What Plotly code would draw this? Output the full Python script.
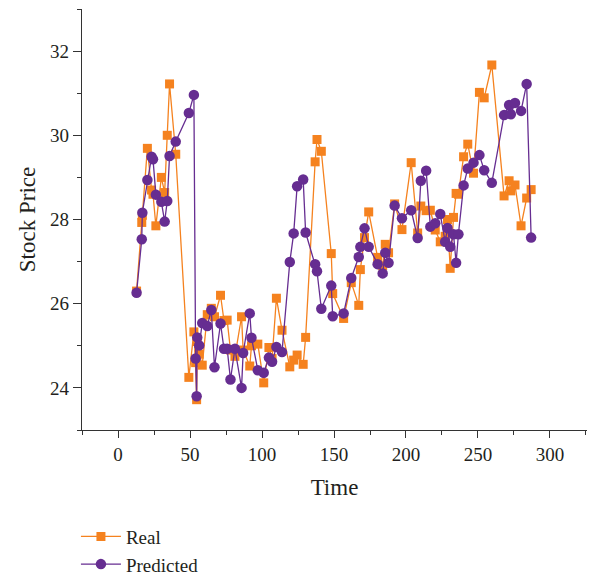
import plotly.graph_objects as go

time = [12.9, 16.5, 16.9, 20.4, 23.3, 24.3, 26.3, 30.1, 32.4, 34.2, 35.8, 40.1,
        49.2, 52.7, 53.9, 54.6, 55.0, 56.4, 58.5, 62.0, 64.8, 67.0, 71.2, 73.6,
        75.8, 78.1, 81.2, 85.8, 86.9, 91.5, 92.7, 97.1, 101.2, 104.8, 107.0, 110.0,
        113.9, 119.3, 122.0, 124.4, 128.6, 130.3, 136.9, 138.2, 141.2, 148.1, 149.1,
        156.7, 162.0, 167.2, 168.3, 171.2, 174.1, 180.3, 183.8, 185.6, 187.9, 192.1,
        197.2, 203.6, 208.1, 210.3, 214.0, 216.9, 220.3, 223.8, 227.2, 228.8, 230.7,
        233.0, 234.8, 236.4, 240.0, 242.9, 246.9, 251.0, 254.3, 259.6, 268.1, 271.6,
        272.8, 275.7, 279.9, 283.8, 286.9]

real = [26.30, 27.93, 28.10, 29.69, 28.70, 28.60, 27.85, 29.00, 28.64, 30.00, 31.22, 29.55,
        24.25, 25.33, 24.60, 23.72, 25.10, 24.80, 24.54, 25.74, 25.89, 25.69, 26.20, 25.60,
        25.61, 24.90, 24.75, 25.69, 24.90, 24.52, 25.00, 25.04, 24.12, 24.96, 24.70, 26.13,
        25.37, 24.50, 24.66, 24.78, 24.56, 25.20, 29.37, 29.90, 29.62, 27.19, 26.24,
        25.65, 26.50, 25.96, 26.81, 27.57, 28.18, 27.10, 26.90, 27.41, 27.21, 28.37,
        27.76, 29.35, 27.68, 28.32, 28.21, 28.22, 27.75, 27.47, 27.60, 28.00, 26.84,
        28.05, 28.62, 28.60, 29.49, 29.79, 29.10, 31.02, 30.89, 31.67, 28.56, 28.92,
        28.68, 28.82, 27.85, 28.51, 28.71]

predicted = [26.26, 27.53, 28.16, 28.94, 29.49, 29.43, 28.59, 28.42, 27.95, 28.44, 29.51, 29.85,
             30.53, 30.96, 24.70, 23.80, 25.20, 25.01, 25.54, 25.47, 25.85, 24.49, 25.53, 24.93,
             24.93, 24.20, 24.93, 24.00, 24.83, 25.77, 25.19, 24.42, 24.36, 24.72, 24.62, 24.97,
             24.85, 26.99, 27.67, 28.79, 28.95, 27.69, 26.94, 26.77, 25.88, 26.43, 25.70,
             25.77, 26.61, 27.11, 27.35, 27.79, 27.35, 26.94, 26.72, 27.21, 26.97, 28.33,
             28.03, 28.22, 27.56, 28.92, 29.16, 27.83, 27.91, 28.13, 27.47, 27.80, 27.35,
             27.65, 26.97, 27.65, 28.81, 29.21, 29.35, 29.53, 29.17, 28.87, 30.48, 30.72,
             30.50, 30.77, 30.58, 31.22, 27.57]

x_ticks = [0, 50, 100, 150, 200, 250, 300]
y_ticks = [24, 26, 28, 30, 32]

ORANGE = "#F5821F"
PURPLE = "#662D91"
AXIS = "#333333"
FONT = "Liberation Serif"

fig = go.Figure()
fig.add_trace(go.Scatter(
    x=time, y=real, name="Real", mode="lines+markers",
    line=dict(color=ORANGE, width=1.3),
    marker=dict(symbol="square", size=9, color=ORANGE),
))
fig.add_trace(go.Scatter(
    x=time, y=predicted, name="Predicted", mode="lines+markers",
    line=dict(color=PURPLE, width=1.3),
    marker=dict(symbol="circle", size=10.5, color=PURPLE),
))

fig.update_layout(
    width=589, height=575,
    margin=dict(l=82, r=2, t=9, b=145, autoexpand=False),
    paper_bgcolor="white", plot_bgcolor="white",
    font=dict(family=FONT, size=19, color="#231F20"),
    showlegend=True,
    legend=dict(
        x=-0.012, xanchor="left", y=-0.208, yanchor="top",
        orientation="v", font=dict(size=19), itemwidth=40,
        bgcolor="rgba(0,0,0,0)", tracegroupgap=0,
    ),
    xaxis=dict(
        range=[-25, 325.7], tickvals=x_ticks, ticktext=[str(v) for v in x_ticks],
        showgrid=False, zeroline=False, showline=True, linecolor=AXIS, linewidth=1.4,
        ticks="outside", ticklen=7, tickwidth=1.4, tickcolor=AXIS, automargin=False,
        minor=dict(ticks="outside", ticklen=4, tickwidth=1.4, tickcolor=AXIS,
                   tick0=25, dtick=50, showgrid=False),
        title=dict(text="Time", standoff=14),
        tickfont=dict(size=19),
    ),
    yaxis=dict(
        range=[23, 33], tickvals=y_ticks, ticktext=[str(v) for v in y_ticks],
        showgrid=False, zeroline=False, showline=True, linecolor=AXIS, linewidth=1.4,
        ticks="outside", ticklen=8, tickwidth=1.4, tickcolor=AXIS, automargin=False,
        minor=dict(ticks="outside", ticklen=4, tickwidth=1.4, tickcolor=AXIS,
                   tick0=23, dtick=2, showgrid=False),
        title=dict(text="Stock Price", standoff=7),
        tickfont=dict(size=19),
    ),
)

fig.write_html(
    "out.html",
    config={"displayModeBar": False},
    post_script="document.body.style.margin='0';document.body.style.overflow='hidden';",
)
